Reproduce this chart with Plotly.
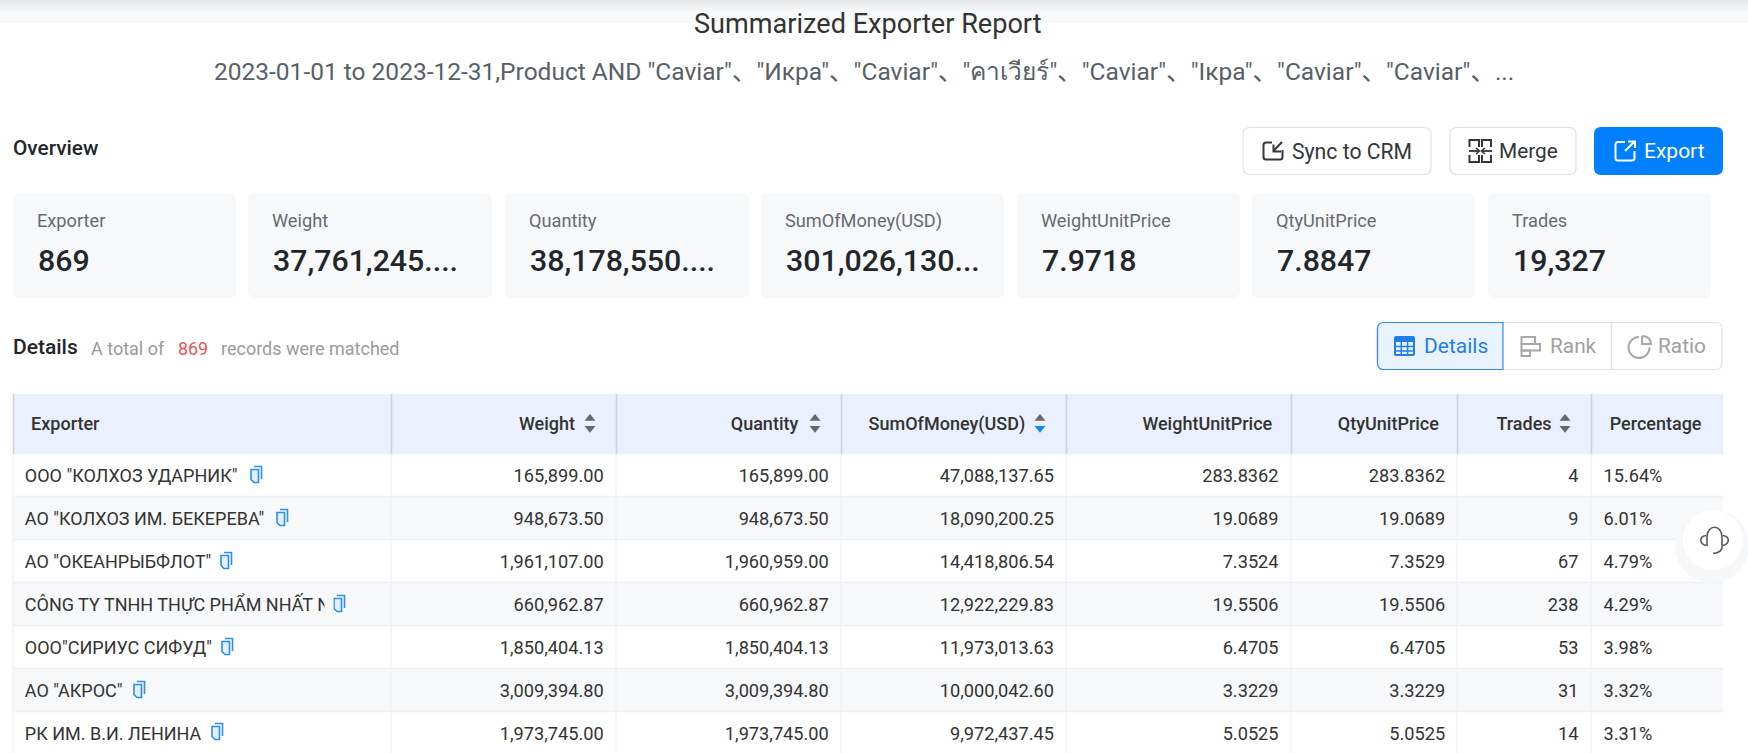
import plotly.graph_objects as go

W, H = 1748, 753
FONT = "Roboto, 'Noto Sans', 'Noto Sans CJK SC', 'DejaVu Sans', sans-serif"

# report text
title = "Summarized Exporter Report"
subtitle = ('2023-01-01 to 2023-12-31,Product AND "Caviar"、"Икра"、"Caviar"、"คาเวียร์"、'
            '"Caviar"、"Ікра"、"Caviar"、"Caviar"、...')

# overview cards
card_labels = ["Exporter", "Weight", "Quantity", "SumOfMoney(USD)", "WeightUnitPrice", "QtyUnitPrice", "Trades"]
card_values = ["869", "37,761,245....", "38,178,550....", "301,026,130...", "7.9718", "7.8847", "19,327"]
card_edges = [(13, 236), (248, 492), (505, 749), (761, 1004), (1017, 1240), (1252, 1475), (1488, 1711)]

# table data
columns = ["Exporter", "Weight", "Quantity", "SumOfMoney(USD)", "WeightUnitPrice", "QtyUnitPrice", "Trades", "Percentage"]
exporters = ['ООО "КОЛХОЗ УДАРНИК"', 'АО "КОЛХОЗ ИМ. БЕКЕРЕВА"', 'АО "ОКЕАНРЫБФЛОТ"',
             "CÔNG TY TNHH THỰC PHẨM NHẤT N", 'ООО"СИРИУС СИФУД"', 'АО "АКРОС"', "РК ИМ. В.И. ЛЕНИНА"]
weight = [165899.00, 948673.50, 1961107.00, 660962.87, 1850404.13, 3009394.80, 1973745.00]
quantity = [165899.00, 948673.50, 1960959.00, 660962.87, 1850404.13, 3009394.80, 1973745.00]
money = [47088137.65, 18090200.25, 14418806.54, 12922229.83, 11973013.63, 10000042.60, 9972437.45]
weight_price = [283.8362, 19.0689, 7.3524, 19.5506, 6.4705, 3.3229, 5.0525]
qty_price = [283.8362, 19.0689, 7.3529, 19.5506, 6.4705, 3.3229, 5.0525]
trades = [4, 9, 67, 238, 53, 31, 14]
percentage = [15.64, 6.01, 4.79, 4.29, 3.98, 3.32, 3.31]

# page geometry, in screenshot pixels
col_edges = [13, 391, 616, 841, 1066, 1291, 1457, 1591, 1723]
tbl_edges = [16.8, 391, 611.7, 836.9, 1062, 1286.7, 1453.4, 1586.6, 1725]
row_edges = [454, 497, 540, 583, 626, 669, 712, 753]
copy_x = [250, 276, 220, 333, 221, 133, 211]
sort_x = [590, 815, 1040, 1565]


def px(x):
    return x / W


def py(y):
    return 1 - y / H


def path(cmds):
    # cmds is a list of (letter, x, y, ...) in pixels, converted to paper coordinates
    out = []
    for c in cmds:
        nums = c[1:]
        pts = [f"{px(nums[i]):.6f},{py(nums[i + 1]):.6f}" for i in range(0, len(nums), 2)]
        out.append(c[0] + " ".join(pts))
    return " ".join(out)


shapes = []


def add(cmds, fill=None, line=None, lw=1.0, close=False):
    d = path(cmds) + (" Z" if close else "")
    shapes.append(dict(type="path", path=d, xref="paper", yref="paper", layer="below",
                       fillcolor=fill or "rgba(0,0,0,0)",
                       line=dict(color=line or "rgba(0,0,0,0)", width=lw if line else 0)))


def rrect(x0, y0, x1, y1, r=0, **kw):
    if r == 0:
        add([("M", x0, y0), ("L", x1, y0), ("L", x1, y1), ("L", x0, y1)], close=True, **kw)
        return
    add([("M", x0 + r, y0), ("L", x1 - r, y0), ("Q", x1, y0, x1, y0 + r),
         ("L", x1, y1 - r), ("Q", x1, y1, x1 - r, y1), ("L", x0 + r, y1),
         ("Q", x0, y1, x0, y1 - r), ("L", x0, y0 + r), ("Q", x0, y0, x0 + r, y0)], close=True, **kw)


def seg(x0, y0, x1, y1, color, lw=1.0):
    add([("M", x0, y0), ("L", x1, y1)], line=color, lw=lw)


def circle(cx, cy, r, **kw):
    k = 0.5523 * r
    add([("M", cx, cy - r), ("C", cx + k, cy - r, cx + r, cy - k, cx + r, cy),
         ("C", cx + r, cy + k, cx + k, cy + r, cx, cy + r),
         ("C", cx - k, cy + r, cx - r, cy + k, cx - r, cy),
         ("C", cx - r, cy - k, cx - k, cy - r, cx, cy - r)], close=True, **kw)


# top shadow band
band = ["#e4e5e7", "#e6e7e9", "#e8e9eb", "#eaebed", "#ecedef", "#eeeff1", "#eff0f2", "#f1f2f4",
        "#f2f3f5", "#f3f4f6", "#f5f6f7", "#f6f7f8"]
for i, c in enumerate(band):
    rrect(0, i, W, i + 1, fill=c)
rrect(0, 12, W, 23, fill="#f8f9fa")

# cards
for x0, x1 in card_edges:
    rrect(x0, 193, x1, 298, r=7, fill="#f7f8fa")

# buttons
rrect(1243, 127.5, 1431, 174.5, r=7, fill="#ffffff", line="#dfe1e8", lw=1.2)
rrect(1450, 127.5, 1576, 174.5, r=7, fill="#ffffff", line="#dfe1e8", lw=1.2)
rrect(1594, 127, 1723, 175, r=7, fill="#0080ff")

# sync icon
dark = "#33363b"
add([("M", 1272, 142.5), ("L", 1266, 142.5), ("Q", 1263.5, 142.5, 1263.5, 145), ("L", 1263.5, 157),
     ("Q", 1263.5, 159.5, 1266, 159.5), ("L", 1280, 159.5), ("Q", 1282.5, 159.5, 1282.5, 157), ("L", 1282.5, 150)],
    line=dark, lw=2)
add([("M", 1282, 142), ("L", 1273.5, 151)], line=dark, lw=2)
add([("M", 1273.5, 144.5), ("L", 1273.5, 151.5), ("L", 1281, 151.5)], line=dark, lw=2)

# merge icon
add([("M", 1479, 147), ("L", 1479, 140), ("L", 1469.5, 140), ("L", 1469.5, 147)], line=dark, lw=2)
add([("M", 1479, 155), ("L", 1479, 162), ("L", 1469.5, 162), ("L", 1469.5, 155)], line=dark, lw=2)
add([("M", 1482, 147), ("L", 1482, 140), ("L", 1491, 140), ("L", 1491, 147)], line=dark, lw=2)
add([("M", 1482, 155), ("L", 1482, 162), ("L", 1491, 162), ("L", 1491, 155)], line=dark, lw=2)
seg(1469, 151, 1479, 151, dark, 1.8)
seg(1482, 151, 1492, 151, dark, 1.8)
add([("M", 1476, 148), ("L", 1479.5, 151), ("L", 1476, 154)], line=dark, lw=1.6)
add([("M", 1485, 148), ("L", 1481.5, 151), ("L", 1485, 154)], line=dark, lw=1.6)

# export icon
add([("M", 1625, 142), ("L", 1618, 142), ("Q", 1615.5, 142, 1615.5, 144.5), ("L", 1615.5, 158),
     ("Q", 1615.5, 160.5, 1618, 160.5), ("L", 1632, 160.5), ("Q", 1634.5, 160.5, 1634.5, 158), ("L", 1634.5, 151)],
    line="#ffffff", lw=2)
seg(1625, 151, 1634, 142, "#ffffff", 2)
add([("M", 1628, 141.5), ("L", 1635, 141.5), ("L", 1635, 148)], line="#ffffff", lw=2)

# tab group
rrect(1377, 322.5, 1722, 369.5, r=7, fill="#ffffff", line="#dfe1e8", lw=1.2)
seg(1611.5, 322, 1611.5, 370, "#dfe1e8", 1.5)
add([("M", 1503, 322.5), ("L", 1384, 322.5), ("Q", 1377.5, 322.5, 1377.5, 329), ("L", 1377.5, 363),
     ("Q", 1377.5, 369.5, 1384, 369.5), ("L", 1503, 369.5)], close=True, fill="#eaf2fe", line="#2b8ef0", lw=1.2)

# tab icons
blue = "#1f7fe8"
rrect(1395, 337, 1414, 355, r=1, line=blue, lw=2)
rrect(1395, 337, 1414, 342, fill=blue)
for v in (1401.3, 1407.6):
    seg(v, 342, v, 355, blue, 1.5)
for v in (346.5, 351):
    seg(1395, v, 1414, v, blue, 1.5)
grey = "#a8a8a8"
rrect(1521.5, 337, 1535, 344, line=grey, lw=2)
rrect(1521.5, 344, 1540, 350.5, line=grey, lw=2)
rrect(1521.5, 350.5, 1530, 356, line=grey, lw=2)
r, cx, cy = 10.5, 1639, 347.5
k = 0.5523 * r
add([("M", cx, cy - r), ("C", cx - k, cy - r, cx - r, cy - k, cx - r, cy),
     ("C", cx - r, cy + k, cx - k, cy + r, cx, cy + r),
     ("C", cx + k, cy + r, cx + r, cy + k, cx + r, cy)], line=grey, lw=2)
add([("M", 1642, 336), ("L", 1642, 344), ("L", 1651, 344), ("C", 1651, 339, 1647, 336, 1642, 336)], line=grey, lw=2)

# table background, drawn under the transparent table trace
rrect(col_edges[0], 394, col_edges[-1], row_edges[0], fill="#eaf0fe")
for i in range(len(row_edges) - 1):
    if i % 2 == 1:
        rrect(col_edges[0], row_edges[i], col_edges[-1], row_edges[i + 1], fill="#f7f8fa")
for y in row_edges[:-1]:
    seg(col_edges[0], y - 0.5, col_edges[-1], y - 0.5, "#eef0f3", 1.5)
for x in col_edges[:-1]:
    seg(x, 454, x, H, "#eef0f3", 1.2)
    seg(x + 0.5, 394, x + 0.5, 454, "#cfd3da", 1.6)

# sort arrows
for i, x in enumerate(sort_x):
    down = "#1085f5" if i == 2 else "#65686e"
    add([("M", x, 414), ("L", x + 5.5, 420.7), ("L", x - 5.5, 420.7)], close=True, fill="#65686e")
    add([("M", x, 432.7), ("L", x + 5.5, 426), ("L", x - 5.5, 426)], close=True, fill=down)

# copy icons
cy_icons = [(row_edges[i] + row_edges[i + 1]) / 2 - 1 for i in range(7)]
for x, c in zip(copy_x, cy_icons):
    add([("M", x + 4, c - 8), ("L", x + 11.5, c - 8), ("L", x + 11.5, c + 4.5)], line="#2b8ef0", lw=1.6)
    add([("M", x + 1, c - 5), ("L", x + 8.5, c - 5), ("L", x + 8.5, c + 8), ("L", x + 4, c + 8), ("L", x + 1, c + 5)],
        close=True, fill="#e4f0fe", line="#2b8ef0", lw=1.6)

# floating help button
circle(1712, 546, 37, fill="#f6f7f9")
circle(1713, 540, 30, fill="#ffffff")
add([("M", 1707, 546), ("L", 1707, 537), ("C", 1707, 524, 1722, 524, 1722, 537), ("L", 1722, 547),
     ("C", 1722, 551, 1718, 553, 1713, 553.5)], line="#55585e", lw=1.6)
add([("M", 1706, 535.5), ("C", 1699, 536.5, 1699, 544, 1706, 545.5)], line="#55585e", lw=1.6)
add([("M", 1723, 535.5), ("C", 1730, 536.5, 1730, 544, 1723, 545.5)], line="#55585e", lw=1.6)


def note(x, y, text, size, color, anchor="left", weight=400):
    return dict(x=px(x), y=py(y), xref="paper", yref="paper", text=text, showarrow=False,
                xanchor=anchor, yanchor="middle", borderpad=0,
                font=dict(family=FONT, size=size, color=color, weight=weight))


annotations = [
    note(867.5, 24, title, 27.1, "#333333", "center"),
    note(863.5, 71, subtitle, 24.5, "#595f66", "center"),
    note(12, 148, "Overview", 20.8, "#22262b", weight=500),
    note(12, 347, "Details", 21, "#22262b", weight=500),
    note(90, 348, "A total of", 18, "#9a9a9a"),
    note(177, 348, "869", 17.8, "#ea5455"),
    note(220, 348, "records were matched", 18, "#9a9a9a"),
    note(1291, 151, "Sync to CRM", 21.2, "#33363b"),
    note(1498, 151, "Merge", 20.8, "#33363b"),
    note(1643, 151, "Export", 21, "#ffffff"),
    note(1423, 346, "Details", 21, "#1f7fe8"),
    note(1549, 346, "Rank", 20.8, "#a0a0a0"),
    note(1657, 346, "Ratio", 20.8, "#a0a0a0"),
]
for (x0, _), lab, val in zip(card_edges, card_labels, card_values):
    annotations.append(note(x0 + 23, 220.7, lab, 18.2, "#666a70"))
    annotations.append(note(x0 + 24, 260.7, val, 30.3, "#22262b", weight=500))

# the long exporter name is cut off by its cell in the page, this hides the rest of the N
annotations.append(dict(x=px(323.5), y=py(603.5), xref="paper", yref="paper", text="\u00a0", showarrow=False,
                        xanchor="left", yanchor="middle", width=8, height=22, borderpad=0, bgcolor="#f7f8fa"))

# header text sits left of the sort arrows, padded with no-break and hair spaces
pad = "\u00a0"
hair = "\u200a"
header_vals = [pad + hair + columns[0], columns[1] + hair + pad * 6, columns[2] + hair * 2 + pad * 6,
               columns[3] + hair + pad * 6, columns[4] + hair + pad, columns[5] + hair + pad,
               columns[6] + pad * 6, pad * 3 + hair + columns[7]]
aligns = ["left"] + ["right"] * 6 + ["left"]

fig = go.Figure(go.Table(
    domain=dict(x=[px(tbl_edges[0]), px(tbl_edges[-1])], y=[0, py(408.6)]),
    columnwidth=[b - a for a, b in zip(tbl_edges[:-1], tbl_edges[1:])],
    header=dict(values=header_vals, height=51.7, align=aligns,
                fill=dict(color="rgba(0,0,0,0)"), line=dict(color="rgba(0,0,0,0)", width=0),
                font=dict(family=FONT, size=18, color="#333333", weight=500)),
    cells=dict(values=[exporters, weight, quantity, money, weight_price, qty_price, trades, percentage],
               format=["", ",.2f", ",.2f", ",.2f", ".4f", ".4f", "d", ".2f"],
               prefix=["", "", "", "", "", "", "", pad * 2],
               suffix=["", "", "", "", "", "", "", "%"],
               height=43, align=aligns,
               fill=dict(color="rgba(0,0,0,0)"), line=dict(color="rgba(0,0,0,0)", width=0),
               font=dict(family=FONT, size=[18] + [18.2] * 7, color="#333333")),
))
fig.update_layout(width=W, height=H, margin=dict(l=0, r=0, t=0, b=0), paper_bgcolor="#ffffff",
                  shapes=shapes, annotations=annotations, font=dict(family=FONT))
fig.write_html("out.html", config={"displayModeBar": False}, post_script="document.body.style.margin='0';")
